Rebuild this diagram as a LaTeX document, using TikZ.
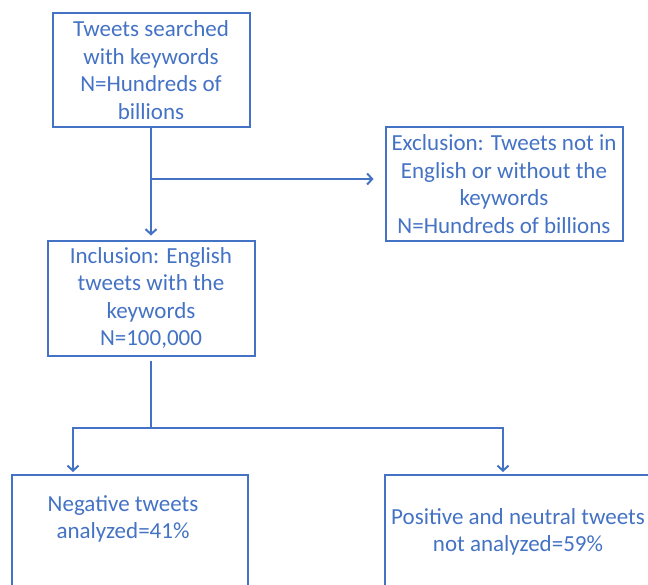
\documentclass[tikz,border=0pt]{standalone}
\usepackage{fontspec}
\setmainfont{Carlito}
\usetikzlibrary{arrows.meta}
\definecolor{flowblue}{HTML}{4472C4}

\begin{document}
\begin{tikzpicture}[x=1pt,y=-1pt,
  box/.style={draw=flowblue,line width=2pt,rectangle,inner sep=0pt,
    minimum height=114pt,text=flowblue,align=center,
    font=\fontsize{23}{27.5}\selectfont},
  boxtext/.style={text=flowblue,align=center,inner sep=0pt,
    font=\fontsize{23}{27.5}\selectfont},
  link/.style={draw=flowblue,line width=2pt,
    -{Straight Barb[length=5pt,width=11pt]}}]
\clip (0,0) rectangle (648,584);

% screening boxes
\node[box,minimum width=197pt] (search) at (151,70)
  {Tweets searched\\with keywords\\N=Hundreds of\\billions};
\node[box,minimum width=237pt] (excl) at (504,184)
  {Exclusion: Tweets not in\\English or without the\\keywords\\N=Hundreds of billions};
\node[box,minimum width=207pt,minimum height=115pt] (incl) at (151,298)
  {Inclusion: English\\tweets with the\\keywords\\N=100,000};

% outcome boxes, cut at the lower edge
\node[box,minimum width=236pt] (neg) at (130,532) {};
\node[boxtext] (negtxt) at (123,519) {Negative tweets\\analyzed=41\%};
\node[box,minimum width=266pt] (pos) at (518,532)
  {Positive and neutral tweets\\not analyzed=59\%};

\coordinate (split) at (151,179);
\coordinate (fork) at (151,428);
\coordinate (negin) at (73,428);
\coordinate (posin) at (503,428);

\draw[link,shorten >=4pt] (search.south) -- (incl.north);
\draw[link,shorten >=11pt] (split) -- (split -| excl.west);
\draw[draw=flowblue,line width=2pt,shorten <=4pt] (incl.south) -- (fork);
\draw[link,shorten >=2pt] (fork) -| (negin |- neg.north);
\draw[link,shorten >=2pt] (fork) -| (posin |- pos.north);
\end{tikzpicture}
\end{document}
